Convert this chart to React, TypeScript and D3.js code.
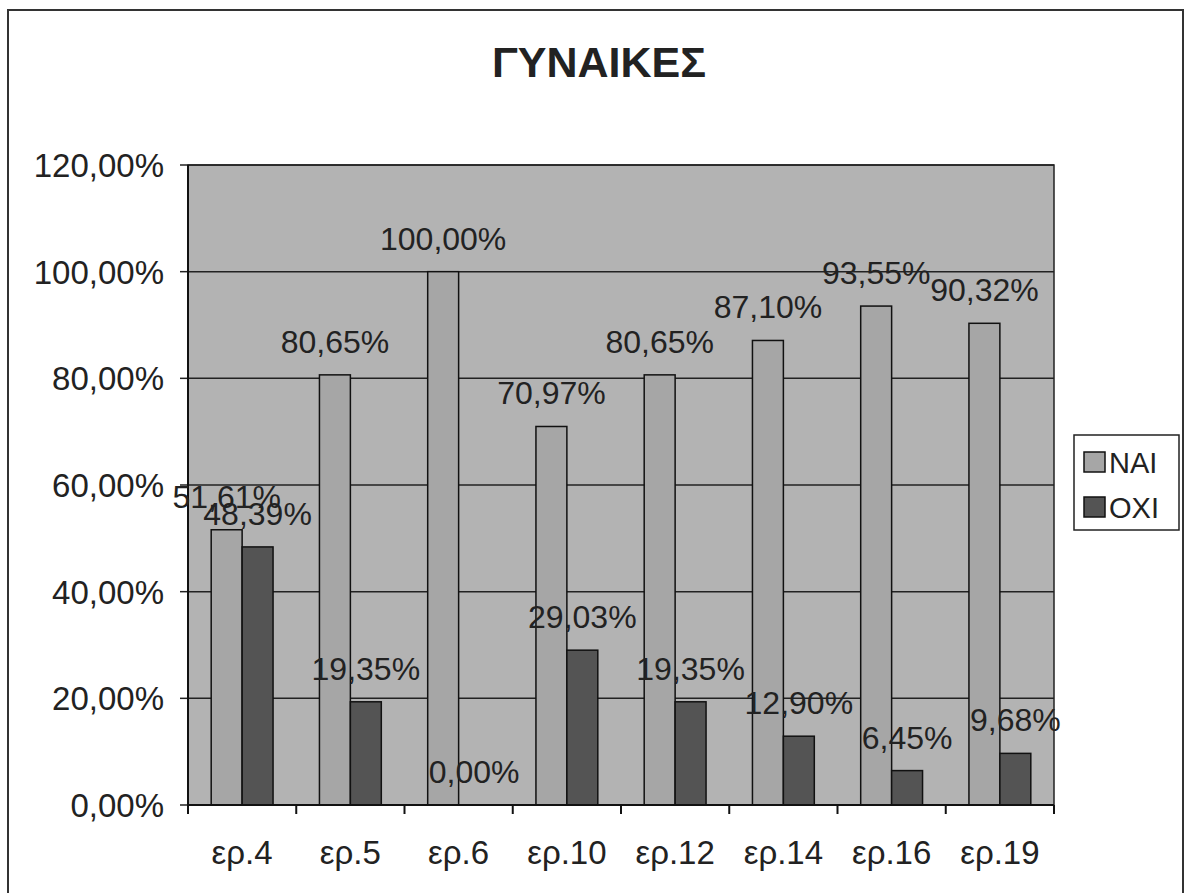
import * as d3 from "d3";

const categories = ["ερ.4", "ερ.5", "ερ.6", "ερ.10", "ερ.12", "ερ.14", "ερ.16", "ερ.19"];
const naiValues = [51.61, 80.65, 100.0, 70.97, 80.65, 87.1, 93.55, 90.32];
const oxiValues = [48.39, 19.35, 0.0, 29.03, 19.35, 12.9, 6.45, 9.68];
const seriesNames = ["NAI", "OXI"];
const yTicks = [0, 20, 40, 60, 80, 100, 120];

const W = 1187;
const H = 893;
const FONT = "'Liberation Sans', Arial, sans-serif";
const TEXT = "#222";
const PLOT_BG = "#b3b3b3";
const SERIES_COLORS = ["#a6a6a6", "#545454"];

const plot = { left: 188, right: 1054, top: 165, bottom: 805 };

const fmt = (v: number) => v.toFixed(2).replace(".", ",") + "%";

const App = () => {
  const x = d3
    .scaleBand<string>()
    .domain(categories)
    .range([plot.left, plot.right]);
  // excel gap width 150% -> two bars + 1.5 bar gap per band
  const barW = x.bandwidth() / 3.5;
  const inner = d3
    .scaleBand<string>()
    .domain(seriesNames)
    .range([barW * 0.75, barW * 2.75]);
  const y = d3.scaleLinear().domain([0, 120]).range([plot.bottom, plot.top]);

  const series = [naiValues, oxiValues];

  return (
    <svg
      width={W}
      height={H}
      style={{ position: "absolute", left: 0, top: 0, background: "#fff" }}
      fontFamily={FONT}
    >
      <rect x={8} y={10} width={1175} height={900} fill="#fff" stroke="#333" strokeWidth={2} />

      <text x={599} y={77} textAnchor="middle" fontSize={43} fontWeight="bold" fill={TEXT}>
        ΓΥΝΑΙΚΕΣ
      </text>

      {/* plot area */}
      <rect
        x={plot.left}
        y={plot.top}
        width={plot.right - plot.left}
        height={plot.bottom - plot.top}
        fill={PLOT_BG}
        stroke="#222"
        strokeWidth={1.5}
      />
      {yTicks.map((t) => (
        <g key={t}>
          <line x1={plot.left} x2={plot.right} y1={y(t)} y2={y(t)} stroke="#222" strokeWidth={1.5} />
          <line x1={plot.left - 8} x2={plot.left} y1={y(t)} y2={y(t)} stroke="#222" strokeWidth={1.5} />
          <text x={164} y={y(t) + 12} textAnchor="end" fontSize={33} fill={TEXT}>
            {fmt(t)}
          </text>
        </g>
      ))}

      {/* bars */}
      {series.map((vals, si) =>
        vals.map((v, i) => {
          const bx = (x(categories[i]) ?? 0) + (inner(seriesNames[si]) ?? 0);
          return (
            <rect
              key={`${si}-${i}`}
              x={bx}
              y={y(v)}
              width={barW}
              height={plot.bottom - y(v)}
              fill={SERIES_COLORS[si]}
              stroke="#111"
              strokeWidth={1.5}
            />
          );
        })
      )}

      {/* axes lines */}
      <line x1={plot.left} x2={plot.left} y1={plot.top} y2={plot.bottom} stroke="#111" strokeWidth={2} />
      <line x1={plot.left} x2={plot.right} y1={plot.bottom} y2={plot.bottom} stroke="#111" strokeWidth={2} />
      {categories.concat([""]).map((c, i) => {
        const tx = plot.left + i * x.step();
        return <line key={`t${i}`} x1={tx} x2={tx} y1={plot.bottom} y2={plot.bottom + 9} stroke="#111" strokeWidth={2} />;
      })}
      {categories.map((c) => (
        <text
          key={c}
          x={(x(c) ?? 0) + x.bandwidth() / 2}
          y={864}
          textAnchor="middle"
          fontSize={33}
          fill={TEXT}
        >
          {c}
        </text>
      ))}

      {/* data labels */}
      {series.map((vals, si) =>
        vals.map((v, i) => {
          const cx = (x(categories[i]) ?? 0) + (inner(seriesNames[si]) ?? 0) + barW / 2;
          return (
            <text
              key={`l${si}-${i}`}
              x={cx}
              y={y(v) - 22}
              textAnchor="middle"
              fontSize={32}
              fill={TEXT}
            >
              {fmt(v)}
            </text>
          );
        })
      )}

      {/* legend */}
      <rect x={1074} y={435} width={105} height={95} fill="#fff" stroke="#222" strokeWidth={1.5} />
      {seriesNames.map((n, i) => (
        <g key={n}>
          <rect
            x={1084}
            y={452 + i * 45}
            width={21}
            height={20}
            fill={SERIES_COLORS[i]}
            stroke="#111"
            strokeWidth={1.5}
          />
          <text x={1109} y={473 + i * 45} fontSize={29} fill={TEXT}>
            {n}
          </text>
        </g>
      ))}
    </svg>
  );
};

export default App;
